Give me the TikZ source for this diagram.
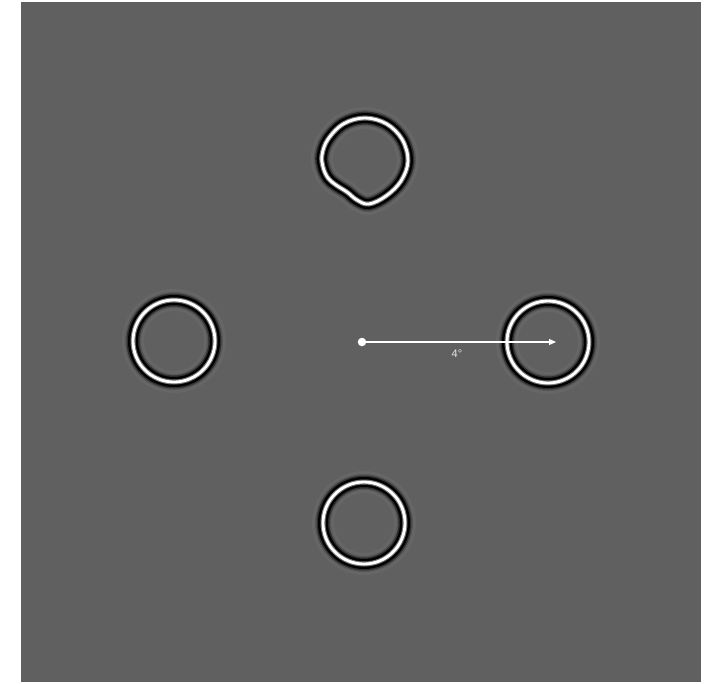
\documentclass[tikz,border=0pt]{standalone}
\usepackage{fontspec}
\setmainfont{Liberation Sans}
\usetikzlibrary{arrows.meta}
\definecolor{bggray}{HTML}{606060}
\definecolor{labelgray}{HTML}{E6E6E6}
\tikzset{
  ring/.style={
    preaction={draw=white,draw opacity=0.04,line width=22pt},
    preaction={draw=black,draw opacity=0.15,line width=16pt},
    preaction={draw=black,draw opacity=0.45,line width=13pt},
    preaction={draw=black,line width=10pt},
    preaction={draw=white,draw opacity=0.45,line width=5pt},
    draw=white,line width=2.8pt},
  arrowline/.style={draw=white,line width=1.2pt,-{Triangle[length=7pt,width=6pt]}},
  fixdot/.style={circle,fill=white,inner sep=0pt,minimum size=8.5pt},
  anglelabel/.style={text=labelgray,font=\fontsize{11}{13}\selectfont,inner sep=0pt}
}
\begin{document}
\begin{tikzpicture}[x=1pt,y=-1pt]
\useasboundingbox (0,0) rectangle (720,683);
\fill[white] (0,0) rectangle (720,683);
\fill[bggray] (21,2) rectangle (701,682);
% rings
\draw[ring] (174,341) circle[radius=41];
\draw[ring] (548,342) circle[radius=41];
\draw[ring] (364,523) circle[radius=41];
\draw[ring] plot[smooth cycle,tension=0.6] coordinates {
  (365,118) (386.5,123.8) (402.2,139.5) (408,161) (401,181) (386,196)
  (369,204) (357,200) (347,192) (336,185) (328,178) (323,167) (322,155)
  (327.8,139.5) (343.5,123.8)};
% fixation and arrow
\node[fixdot] (fix) at (362,342) {};
\coordinate (tip) at (556,342);
\draw[arrowline] (fix.center) -- (tip);
\node[anglelabel] (lab) at (457,354) {4°};
\end{tikzpicture}
\end{document}
